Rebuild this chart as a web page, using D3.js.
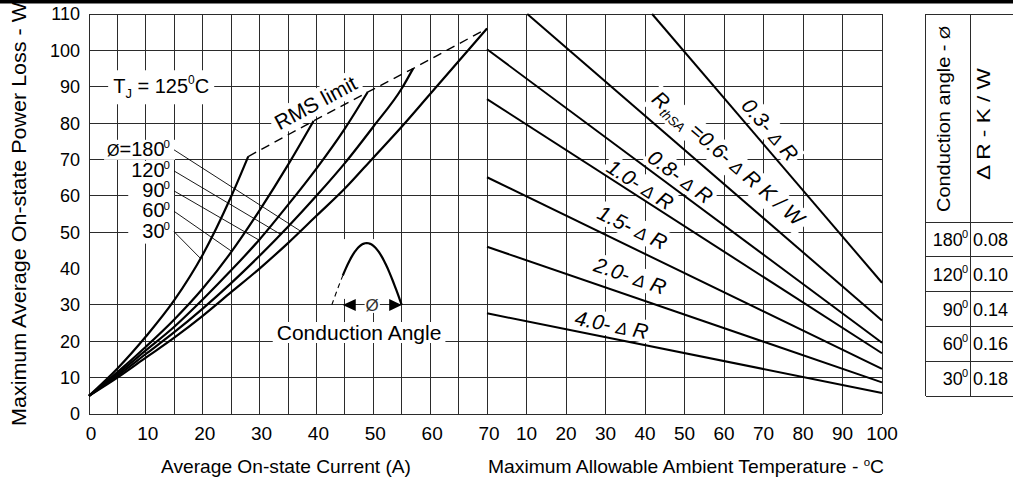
<!DOCTYPE html>
<html>
<head>
<meta charset="utf-8">
<title>On-state power loss vs. current and ambient temperature</title>
<script src="https://cdn.jsdelivr.net/npm/d3@7/dist/d3.min.js"></script>
<style>
  html, body { margin: 0; padding: 0; background: #fff; }
  svg { display: block; font-family: "Liberation Sans", Arial, Helvetica, sans-serif; }
</style>
</head>
<body>
<svg id="chart" width="1013" height="483"></svg>
<script>
// ---------------- data ----------------
// Average on-state current axis (A)
const currentTicks = [0, 10, 20, 30, 40, 50, 60, 70];
const currentGrid = [0, 5, 10, 15, 20, 25, 30, 35, 40, 45, 50, 55, 60, 65, 70];
// Power loss axis (W)
const powerTicks = [0, 10, 20, 30, 40, 50, 60, 70, 80, 90, 100, 110];
const powerGrid = [0, 10, 20, 30, 50, 60, 70, 80, 90, 100, 110];
// Ambient temperature axis (°C)
const tempTicks = [10, 20, 30, 40, 50, 60, 70, 80, 90, 100];
const tempGrid = [0, 10, 20, 30, 40, 50, 60, 70, 80, 90, 100];

// Power loss vs. average current, one curve per conduction angle: [A, W]
const angles = ["180", "120", "90", "60", "30"];
const loss180 = [[0,5],[5,10],[10,15.5],[15,21],[20,27],[25,33.5],[30,40],[35,47],[40,54.5],[45,62],[50,70.5],[55,79],[60,88],[65,97],[70,106]];
const loss120 = [[0,5],[5,10.5],[10,16.5],[15,22.5],[20,29],[25,36],[30,43.5],[35,51.5],[40,60],[45,69],[50,79],[55,89.5],[57,95]];
const loss90  = [[0,5],[5,11],[10,17.5],[15,24],[20,31.5],[25,39.5],[30,48],[35,57.5],[40,67.5],[45,78.5],[49,88.5]];
const loss60  = [[0,5],[5,11.5],[10,18.5],[15,26],[20,34.5],[25,44.5],[30,56],[35,68.5],[39.5,80.6]];
const loss30  = [[0,5],[5,12.5],[10,21.3],[15,31.3],[20,43.8],[25,59.8],[28,70.8]];
const lossCurves = [loss180, loss120, loss90, loss60, loss30];

// Heatsink thermal resistance lines: power loss vs. ambient temperature: [°C, W]
const rthValues = ["0.3", "0.6", "0.8", "1.0", "1.5", "2.0", "4.0"];
const rth03 = [[41.8,110],[100,36.1]];
const rth06 = [[10.2,110],[100,25.7]];
const rth08 = [[0,100.3],[100,19.6]];
const rth10 = [[0,86.6],[100,16.7]];
const rth15 = [[0,65.1],[100,12.4]];
const rth20 = [[0,46],[100,8.7]];
const rth40 = [[0,27.7],[100,5.8]];
const rthLines = [rth03, rth06, rth08, rth10, rth15, rth20, rth40];

// Delta R per conduction angle (K/W)
const tableAngles = ["180", "120", "90", "60", "30"];
const tableDeltaR = [0.08, 0.10, 0.14, 0.16, 0.18];

// ---------------- layout ----------------
const svg = d3.select("#chart");
const W = +svg.attr("width"), H = +svg.attr("height");

const xI = d3.scaleLinear().domain([0, 70]).range([89, 487]);   // current
const xT = d3.scaleLinear().domain([0, 100]).range([487, 882]); // temperature
const y  = d3.scaleLinear().domain([0, 110]).range([414, 14]);  // power

svg.append("rect").attr("x", 0).attr("y", 0).attr("width", W).attr("height", 3.5).attr("fill", "#000");

const gGrid  = svg.append("g").attr("stroke", "#2b2b2b").attr("stroke-width", 1).attr("shape-rendering", "crispEdges");
const gMask  = svg.append("g").attr("fill", "#fff");
const gMarks = svg.append("g").attr("fill", "none").attr("stroke", "#000");
const gText  = svg.append("g").attr("fill", "#000");

// white backing behind a label (group or text, in its own transform)
function backing(sel, px, py) {
  const bb = sel.node().getBBox();
  gMask.append("rect")
    .attr("transform", sel.attr("transform"))
    .attr("x", bb.x - px).attr("y", bb.y - py)
    .attr("width", bb.width + 2 * px).attr("height", bb.height + 2 * py);
  return bb;
}

// ---------------- grid ----------------
gGrid.selectAll("line.gi").data(currentGrid).join("line").attr("class", "gi")
  .attr("x1", d => xI(d)).attr("x2", d => xI(d)).attr("y1", y(110)).attr("y2", y(0));
gGrid.selectAll("line.gt").data(tempGrid).join("line").attr("class", "gt")
  .attr("x1", d => xT(d)).attr("x2", d => xT(d)).attr("y1", y(110)).attr("y2", y(0));
gGrid.selectAll("line.gp").data(powerGrid).join("line").attr("class", "gp")
  .attr("x1", xI(0)).attr("x2", xT(100)).attr("y1", d => y(d)).attr("y2", d => y(d));

// ---------------- tick labels ----------------
gText.append("g").attr("font-size", 18).attr("text-anchor", "end")
  .selectAll("text").data(powerTicks).join("text")
  .attr("x", xI(0) - 9).attr("y", d => y(d)).attr("dy", "0.36em").text(d => d);
gText.append("g").attr("font-size", 19).attr("text-anchor", "middle")
  .selectAll("text").data(currentTicks).join("text")
  .attr("x", d => xI(d) + 2).attr("y", y(0) + 25.5).text(d => d);
gText.append("g").attr("font-size", 19).attr("text-anchor", "middle")
  .selectAll("text").data(tempTicks).join("text")
  .attr("x", d => xT(d)).attr("y", y(0) + 25.5).text(d => d);

// ---------------- axis titles ----------------
gText.append("text").attr("font-size", 18.5).attr("text-anchor", "middle")
  .attr("x", 286).attr("y", 473)
  .attr("textLength", 250).attr("lengthAdjust", "spacingAndGlyphs")
  .text("Average On-state Current (A)");
const tTitle = gText.append("text").attr("font-size", 18.5).attr("text-anchor", "middle")
  .attr("x", 686).attr("y", 473)
  .attr("textLength", 396).attr("lengthAdjust", "spacingAndGlyphs");
tTitle.append("tspan").text("Maximum Allowable Ambient Temperature - ");
tTitle.append("tspan").attr("font-size", 11).attr("dy", -7).text("o");
tTitle.append("tspan").attr("dy", 7).text("C");
gText.append("text").attr("font-size", 20).attr("text-anchor", "middle")
  .attr("transform", "translate(26,214) rotate(-90)")
  .attr("textLength", 424).attr("lengthAdjust", "spacingAndGlyphs")
  .text("Maximum Average On-state Power Loss - W");

// ---------------- loss curves ----------------
const lineI = d3.line().x(d => xI(d[0])).y(d => y(d[1])).curve(d3.curveMonotoneX);
gMarks.selectAll("path.loss").data(lossCurves).join("path").attr("class", "loss")
  .attr("d", lineI).attr("stroke-width", 2.2).attr("stroke-linejoin", "round");

// RMS current limit through the curve ends
const rmsLimit = lossCurves.map(c => c[c.length - 1]).sort((a, b) => a[0] - b[0]);
gMarks.append("path").attr("d", d3.line().x(d => xI(d[0])).y(d => y(d[1]))(rmsLimit))
  .attr("stroke-width", 1.4).attr("stroke-dasharray", "9,6");

function lossAt(curve, a) {
  const i = Math.max(1, d3.bisector(d => d[0]).left(curve, a));
  const p = curve[i - 1], q = curve[i];
  return p[1] + (q[1] - p[1]) * (a - p[0]) / (q[0] - p[0]);
}

// ---------------- conduction angle labels with leaders ----------------
const labelEndA = 14.25;                          // right edge of labels (A)
const labelBaseW = [71.0, 65.2, 59.7, 54.1, 48.5]; // baselines (W)
const leaderStartA = 14.95;
const leaderEndA = [37.2, 33.7, 29.9, 25.1, 19.6];

const angleText = angles.map((a, i) => {
  const t = gText.append("text").attr("font-size", 20).attr("text-anchor", "end")
    .attr("x", xI(labelEndA)).attr("y", y(labelBaseW[i]));
  if (i === 0) {
    t.append("tspan").attr("font-size", 16).text("\u00D8");
    t.append("tspan").text("=" + a);
  } else {
    t.append("tspan").text(a);
  }
  t.append("tspan").attr("font-size", 11.5).attr("dy", -7.5).attr("dx", -1).text("0");
  return t;
});
// backing for first label and the stacked block below it
{
  const b0 = angleText[0].node().getBBox();
  gMask.append("rect").attr("x", b0.x - 3).attr("y", b0.y + 2)
    .attr("width", xI(leaderStartA) - b0.x + 4).attr("height", b0.height - 2);
  const bbs = angleText.slice(1).map(t => t.node().getBBox());
  const x0 = d3.min(bbs, b => b.x) - 3;
  const y0 = d3.min(bbs, b => b.y) + 2;
  const y1 = d3.max(bbs, b => b.y + b.height) + 2;
  gMask.append("rect").attr("x", x0).attr("y", y0)
    .attr("width", xI(leaderStartA) - x0).attr("height", y1 - y0);
}
gMarks.selectAll("line.leader").data(angles).join("line").attr("class", "leader")
  .attr("x1", xI(leaderStartA)).attr("y1", (d, i) => y(labelBaseW[i]) - 6)
  .attr("x2", (d, i) => xI(leaderEndA[i]))
  .attr("y2", (d, i) => y(lossAt(lossCurves[i], leaderEndA[i])))
  .attr("stroke-width", 0.9);

// ---------------- junction temperature label ----------------
{
  const tj = gText.append("text").attr("font-size", 20).attr("x", xI(4.25)).attr("y", y(88.2));
  tj.append("tspan").text("T");
  tj.append("tspan").attr("font-size", 13).attr("dy", 5).text("J");
  tj.append("tspan").attr("dy", -5).text(" = 125");
  tj.append("tspan").attr("font-size", 12).attr("dy", -9).text("0");
  tj.append("tspan").attr("dy", 9).text("C");
  backing(tj, 5, 3);
}

// ---------------- RMS limit label ----------------
{
  const p0 = [xI(rmsLimit[0][0]), y(rmsLimit[0][1])];
  const p1 = [xI(rmsLimit[rmsLimit.length - 1][0]), y(rmsLimit[rmsLimit.length - 1][1])];
  const ang = Math.atan2(p1[1] - p0[1], p1[0] - p0[0]) * 180 / Math.PI;
  const g = gText.append("g").attr("transform", `translate(${xI(39.9)},${y(85.5)}) rotate(${ang})`);
  g.append("text").attr("font-size", 21).attr("text-anchor", "middle").attr("y", 7).text("RMS limit");
  backing(g, 4, 1);
}

// ---------------- conduction angle pictogram ----------------
{
  const a0 = 42.7, a1 = 55, base = 30, amp = 17, fire = 0.157;
  const px = t => xI(a0 + (a1 - a0) * t);
  const py = t => y(base + amp * Math.sin(Math.PI * t));
  const ts = d3.range(0, 41).map(k => k / 40);
  const lead = ts.filter(t => t <= fire).concat([fire]);
  const cond = [fire].concat(ts.filter(t => t > fire));
  gMask.append("rect").attr("x", px(0) + 3).attr("y", y(base + amp) - 4)
    .attr("width", px(0.86) - px(0) - 3).attr("height", y(base) - y(base + amp) - 2);
  const ln = d3.line().x(px).y(py);
  gMarks.append("path").attr("d", ln(cond)).attr("stroke-width", 2.2);
  gMarks.append("path").attr("d", ln(lead)).attr("stroke-width", 1.1).attr("stroke-dasharray", "5,4");
  const yb = y(base), xf = px(fire), xe = px(1);
  gText.append("path").attr("d", `M${xf},${yb} L${xf + 13},${yb - 6} L${xf + 13},${yb + 6} Z`);
  gText.append("path").attr("d", `M${xe},${yb} L${xe - 12.5},${yb - 6} L${xe - 12.5},${yb + 6} Z`);
  const phi = gText.append("text").attr("font-size", 17).attr("text-anchor", "middle")
    .attr("fill", "#333").attr("x", (xf + xe) / 2).attr("y", yb + 6).text("\u00D8");
  backing(phi, 1, -2);
  const ca = gText.append("text").attr("font-size", 21).attr("text-anchor", "middle")
    .attr("x", xI(47.5)).attr("y", y(20.35)).text("Conduction Angle");
  backing(ca, 4, -1);
}

// ---------------- thermal resistance lines ----------------
const lineT = d3.line().x(d => xT(d[0])).y(d => y(d[1]));
gMarks.selectAll("path.rth").data(rthLines).join("path").attr("class", "rth")
  .attr("d", lineT).attr("stroke-width", 2);

const rthLabelPos = [
  { t: 68.9, d: 14 }, { t: 57.4, d: 22 }, { t: 47.0, d: 12.6 }, { t: 37.3, d: 10.6 },
  { t: 34.8, d: 18 }, { t: 34.7, d: 18.5 }, { t: 30.9, d: 13 }
];
rthLines.forEach((ln, i) => {
  const p0 = [xT(ln[0][0]), y(ln[0][1])], p1 = [xT(ln[1][0]), y(ln[1][1])];
  const th = Math.atan2(p1[1] - p0[1], p1[0] - p0[0]);
  const pos = rthLabelPos[i];
  const f = (pos.t - ln[0][0]) / (ln[1][0] - ln[0][0]);
  const fx = xT(pos.t), fy = p0[1] + f * (p1[1] - p0[1]);
  const cx = fx + pos.d * Math.sin(th), cy = fy - pos.d * Math.cos(th);
  const g = gText.append("g").attr("transform", `translate(${cx},${cy}) rotate(${th * 180 / Math.PI})`);
  const t = g.append("text").attr("font-size", 21).attr("font-style", "italic")
    .attr("text-anchor", "middle").attr("y", 7);
  if (rthValues[i] === "0.6") {
    t.append("tspan").text("R");
    t.append("tspan").attr("font-size", 13).attr("dy", 5).text("thSA");
    t.append("tspan").attr("dy", -5).text(" =" + rthValues[i] + "- ");
    t.append("tspan").attr("font-size", 17).text("\u0394");
    t.append("tspan").text(" R K / W");
  } else {
    t.append("tspan").text(rthValues[i] + "- ");
    t.append("tspan").attr("font-size", 17).text("\u0394");
    t.append("tspan").text(" R");
  }
  backing(g, 3, 0);
});

// ---------------- delta R table ----------------
{
  const tx0 = 925.5, tx1 = 970, tx2 = W;
  const ty0 = 14, ty1 = 222, ty2 = 396;
  const rows = d3.scaleBand().domain(tableAngles).range([ty1, ty2]);
  const gt = svg.append("g").attr("stroke", "#2b2b2b").attr("stroke-width", 1).attr("shape-rendering", "crispEdges");
  gt.append("line").attr("x1", tx0).attr("x2", tx0).attr("y1", ty0).attr("y2", ty2);
  gt.append("line").attr("x1", tx1).attr("x2", tx1).attr("y1", ty0).attr("y2", ty2);
  gt.selectAll("line.row").data([ty0, ty1].concat(tableAngles.map(a => rows(a) + rows.bandwidth())))
    .join("line").attr("class", "row")
    .attr("x1", tx0).attr("x2", tx2).attr("y1", d => d).attr("y2", d => d);

  const gx = svg.append("g").attr("fill", "#000");
  const hd = gx.append("text").attr("font-size", 18).attr("text-anchor", "middle")
    .attr("transform", `translate(${tx0 + 24.5},${(ty0 + ty1) / 2 + 1}) rotate(-90)`)
    .attr("textLength", 186).attr("lengthAdjust", "spacingAndGlyphs");
  hd.append("tspan").text("Conduction angle - ");
  hd.append("tspan").attr("font-size", 15).text("\u00D8");
  gx.append("text").attr("font-size", 18).attr("text-anchor", "middle")
    .attr("transform", `translate(${tx1 + 20},124) rotate(-90)`)
    .attr("textLength", 112).attr("lengthAdjust", "spacingAndGlyphs")
    .text("\u0394 R - K / W");
  tableAngles.forEach((a, i) => {
    const cy = rows(a) + rows.bandwidth() / 2 + 6.5;
    const t = gx.append("text").attr("font-size", 18).attr("text-anchor", "end")
      .attr("x", tx1 - 2).attr("y", cy);
    t.append("tspan").text(a);
    t.append("tspan").attr("font-size", 11).attr("dy", -8).attr("dx", -1).text("0");
    gx.append("text").attr("font-size", 18).attr("x", tx1 + 3).attr("y", cy)
      .text(d3.format(".2f")(tableDeltaR[i]));
  });
}
</script>
</body>
</html>
